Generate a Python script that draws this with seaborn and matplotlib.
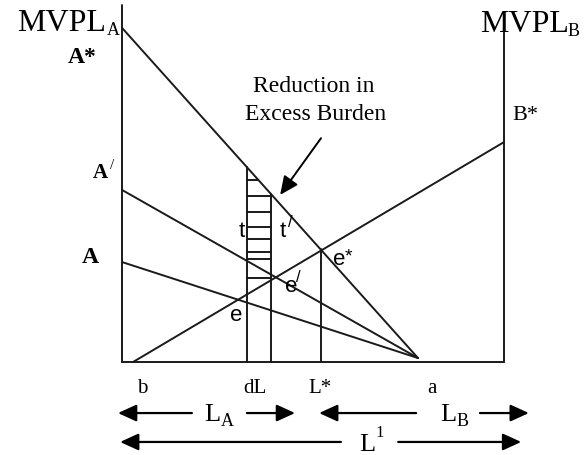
import numpy as np
import pandas as pd
import matplotlib
matplotlib.use("Agg")
import matplotlib.pyplot as plt
import seaborn as sns

# ---- data (model units: labour 0..100 along the box, value 0..100) ----
curve_names = ["A*", "A'", "A", "B"]
curve_x0 = [0.0, 0.0, 0.0, 2.9]
curve_y0 = [93.6, 48.2, 28.0, 0.0]
curve_x1 = [77.5, 77.5, 77.5, 100.0]
curve_y1 = [1.1, 1.1, 1.1, 61.6]

dL_x = [32.7, 39.1]
L_star_x = 52.0
hatch_y = [51.0, 46.5, 42.0, 37.8, 34.5, 30.8, 28.9, 23.5]
box_width = 100.0
left_axis_top = 100.0
right_axis_top = 93.0

bottom_labels = ["b", "dL", "L*", "a"]
bottom_label_x = [5.2, 34.8, 51.8, 81.2]

# ---- build segments ----
def y_on(i, x):
    return curve_y0[i] + (x - curve_x0[i]) * (curve_y1[i] - curve_y0[i]) / (curve_x1[i] - curve_x0[i])

def x_on(i, y):
    return curve_x0[i] + (y - curve_y0[i]) * (curve_x1[i] - curve_x0[i]) / (curve_y1[i] - curve_y0[i])

rows = []
def seg(name, xa, ya, xb, yb):
    rows.append((name, 0, xa, ya))
    rows.append((name, 1, xb, yb))

for i, n in enumerate(curve_names):
    seg("curve " + n, curve_x0[i], curve_y0[i], curve_x1[i], curve_y1[i])
seg("left axis", 0, 0, 0, left_axis_top)
seg("right axis", box_width, 0, box_width, right_axis_top)
seg("bottom", 0, 0, box_width, 0)
for k, xv in enumerate(dL_x):
    seg("dL%d" % k, xv, 0, xv, y_on(0, xv))
seg("Lstar", L_star_x, 0, L_star_x, y_on(0, L_star_x))
for k, yv in enumerate(hatch_y):
    seg("hatch%d" % k, dL_x[0], yv, min(dL_x[1], x_on(0, yv)), yv)

df = pd.DataFrame(rows, columns=["seg", "order", "x", "y"])

sns.set_theme(style="white")
plt.rcParams["font.family"] = ["Liberation Serif", "DejaVu Serif"]

fig = plt.figure(figsize=(5.87, 4.55), dpi=100)
ax = fig.add_axes([122 / 587, (455 - 362) / 455, 382 / 587, 357 / 455])
sns.lineplot(data=df, x="x", y="y", units="seg", estimator=None, sort=False,
             color="#1a1a1a", linewidth=1.4, ax=ax, legend=False)
for ln in ax.lines:
    ln.set_clip_on(False)
ax.set_xlim(0, 100)
ax.set_ylim(0, 100)
ax.set_axis_off()

serif = dict(family=["Liberation Serif", "DejaVu Serif"], color="black")
sans = dict(family=["Liberation Sans", "DejaVu Sans"], color="black")

def txt(x, y, s, size, ha="left", va="baseline", weight="normal", fam=serif):
    ax.text(x, y, s, fontsize=size, ha=ha, va=va, fontweight=weight, clip_on=False, **fam)

# axis titles
txt(-27.4, 92.7, "MVPL", 23)
txt(-3.9, 91.6, "A", 13)
txt(93.7, 92.4, "MVPL", 23)
txt(116.6, 91.2, "B", 13)

# left labels
txt(-14.1, 83.8, "A*", 17, weight="bold")
txt(-7.6, 51.5, "A", 15, weight="bold")
txt(-3.2, 54.0, "/", 11)
txt(-10.5, 27.7, "A", 17, weight="bold")
txt(102.1, 67.8, "B*", 16)

# callout
txt(50.2, 75.6, "Reduction in", 17, ha="center")
txt(50.7, 67.8, "Excess Burden", 17, ha="center")
ax.annotate("", xy=(41.4, 46.8), xytext=(52.1, 62.7),
            arrowprops=dict(arrowstyle="-|>,head_length=0.7,head_width=0.32",
                            color="black", lw=1.4, mutation_scale=16, shrinkA=0, shrinkB=0),
            annotation_clip=False)

# point labels (sans)
txt(30.5, 35.0, "t", 16, fam=sans)
txt(41.3, 35.0, "t", 16, fam=sans)
txt(43.5, 37.8, "/", 12, fam=sans)
txt(55.3, 27.2, "e", 16, fam=sans)
txt(58.3, 28.2, "*", 14, fam=sans)
txt(42.7, 19.6, "e", 16, fam=sans)
txt(45.6, 22.3, "/", 12, fam=sans)
txt(28.3, 11.5, "e", 16, fam=sans)

# bottom labels
for s, xv in zip(bottom_labels, bottom_label_x):
    txt(xv, -7.3, s, 15, ha="center", va="center")

# range arrows
def rarrow(x_from, x_to, y):
    ax.annotate("", xy=(x_to, y), xytext=(x_from, y),
                arrowprops=dict(arrowstyle="-|>,head_length=0.7,head_width=0.32",
                                color="black", lw=1.6, mutation_scale=16, shrinkA=0, shrinkB=0),
                annotation_clip=False)

r1 = -14.3
r2 = -22.4
rarrow(18.3, -1.05, r1)
rarrow(32.7, 45.3, r1)
rarrow(77.0, 51.6, r1)
rarrow(93.7, 106.5, r1)
rarrow(57.3, -0.5, r2)
rarrow(72.3, 104.5, r2)
txt(21.6, r1 - 2.2, "L", 19)
txt(25.9, r1 - 3.6, "A", 13)
txt(83.2, r1 - 2.2, "L", 19)
txt(87.5, r1 - 3.6, "B", 13)
txt(62.0, r2 - 2.6, "L", 19)
txt(66.4, r2 + 1.4, "1", 12)

fig.savefig("out.png", dpi=100, facecolor="white")
